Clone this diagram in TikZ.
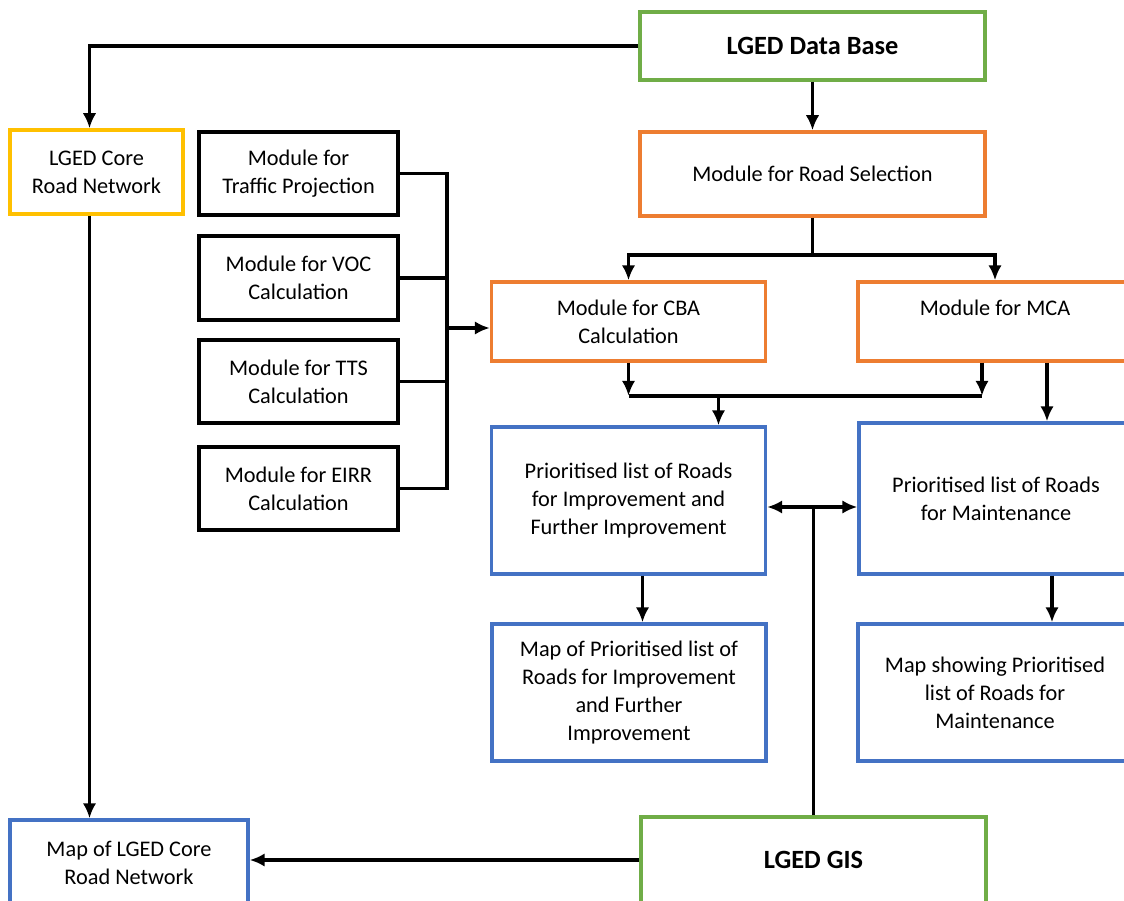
\documentclass[tikz,border=0pt]{standalone}
\usepackage{fontspec}
\setmainfont{Carlito}
\usepackage{tikz}
\usetikzlibrary{arrows.meta}

\definecolor{gisgreen}{HTML}{70AD47}
\definecolor{modorange}{HTML}{ED7D31}
\definecolor{listblue}{HTML}{4472C4}
\definecolor{coregold}{HTML}{FFC000}

\tikzset{
    box/.style={draw, line width=2pt, align=center, inner sep=0pt,
        font=\fontsize{12.7}{15.9}\selectfont},
    title/.style={box, draw=gisgreen, minimum width=6.9cm,
        font=\fontsize{15}{17}\selectfont\bfseries},
    module/.style={box, draw=black, minimum width=3.98cm, minimum height=1.66cm},
    calc/.style={box, draw=modorange, minimum width=5.48cm, minimum height=1.58cm},
    result/.style={box, draw=listblue, minimum width=5.48cm},
    link/.style={line width=2pt, >={Latex[length=0.3cm,width=0.27cm]}}
}

\begin{document}
\begin{tikzpicture}[x=0.02cm, y=-0.02cm, link]
    \useasboundingbox (0,0) rectangle (1124,901);
    \clip (0,0) rectangle (1124,901);

    \node[title, minimum height=1.36cm] (db) at (812.5,46) {LGED Data Base};
    \node[box, draw=coregold, minimum width=3.46cm, minimum height=1.68cm] (core) at (96.5,172) {LGED Core\\Road Network};

    \node[module] (traffic) at (298.5,173.5) {Module for\\Traffic Projection};
    \node[module, minimum height=1.68cm] (voc) at (298.5,278) {Module for VOC\\Calculation};
    \node[module] (tts) at (298.5,381.5) {Module for TTS\\Calculation};
    \node[module] (eirr) at (298.5,488.5) {Module for EIRR\\Calculation};

    \node[calc, minimum width=6.9cm, minimum height=1.68cm] (sel) at (812.5,174) {Module for Road Selection};
    \node[calc] (cba) at (628.5,321.5) {Module for CBA\\Calculation};
    \node[calc] (mca) at (995,321.5) {Module for MCA\\ \mbox{}};

    \node[result, minimum height=2.94cm] (prioimp) at (628.5,500.5) {Prioritised list of Roads\\for Improvement and\\Further Improvement};
    \node[result, minimum height=3.02cm] (priomaint) at (996,498.5) {Prioritised list of Roads\\for Maintenance};
    \node[result, minimum height=2.74cm] (mapimp) at (629,692.5) {Map of Prioritised list of\\Roads for Improvement\\and Further\\Improvement};
    \node[result, minimum height=2.74cm] (mapmaint) at (995,692.5) {Map showing Prioritised\\list of Roads for\\Maintenance};

    \node[result, minimum width=4.76cm, minimum height=1.7cm] (mapcore) at (129,862.5) {Map of LGED Core\\Road Network};
    \node[title, minimum height=1.72cm] (gis) at (813.5,860) {LGED GIS};

    % data base branches
    \draw[->] (db.west) -| ([xshift=-0.14cm]core.north);
    \draw[->] ([xshift=-0.14cm]core.south) -- ([xshift=-0.14cm]core.south |- mapcore.north);
    \draw[->] (db) -- (sel);
    \path (sel.south) ++(0,37) coordinate (split);
    \draw[->] (sel.south) -- (split) -| (cba.north);
    \draw[->] (split) -| (mca.north);

    % modules into CBA
    \draw (traffic.east) -- ++(47,0) coordinate (bus) |- (eirr.east);
    \draw (voc.east) -- (voc.east -| bus);
    \draw (tts.east) -- (tts.east -| bus);
    \draw[->] (bus |- 0,328) -- (cba.west |- 0,328);

    % CBA and MCA into the lists
    \path (cba.south) ++(0,33) coordinate (merge);
    \coordinate (mcaout) at ([xshift=-0.26cm]mca.south);
    \draw[->] (cba.south) -- (merge);
    \draw[->] (mcaout) -- (mcaout |- merge);
    \draw (merge) -- (mcaout |- merge);
    \draw[->] ([xshift=1.8cm]merge) -- ([xshift=1.8cm]merge |- prioimp.north);
    \draw[->] ([xshift=1.04cm]mca.south) -- ([xshift=1.04cm]mca.south |- priomaint.north);

    % lists to maps
    \coordinate (gislink) at ([yshift=-0.13cm]prioimp.east);
    \draw[<->] (gislink) -- (gislink -| priomaint.west);
    \draw (gis.north) -- (gis.north |- gislink);
    \draw[->] ([xshift=0.28cm]prioimp.south) -- ([xshift=0.28cm]prioimp.south |- mapimp.north);
    \draw[->] ([xshift=1.12cm]priomaint.south) -- ([xshift=1.12cm]priomaint.south |- mapmaint.north);
    \draw[->] (gis.west) -- (gis.west -| mapcore.east);
\end{tikzpicture}
\end{document}
